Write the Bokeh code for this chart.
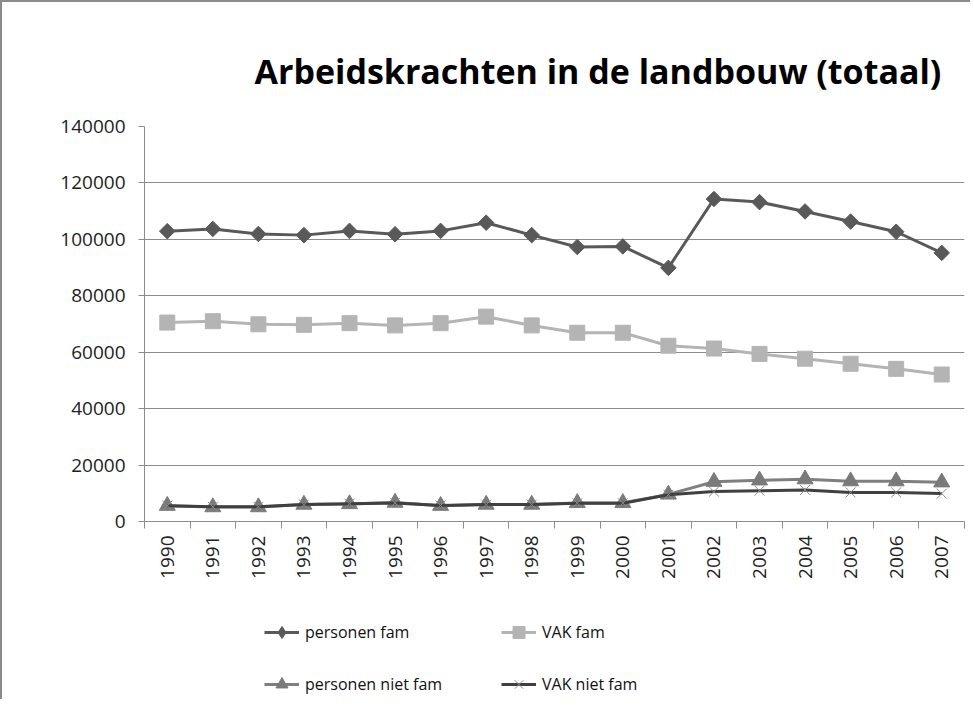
import math
from bokeh.plotting import figure
from bokeh.models import FixedTicker, Legend, LegendItem, Range1d
from bokeh.layouts import column
from bokeh.embed import file_html
from bokeh.resources import INLINE

years = list(range(1990, 2008))
year_labels = [str(y) for y in years]
personen_fam = [102900, 103700, 101900, 101500, 103000, 101800, 103000, 105900, 101500,
                97300, 97500, 89900, 114300, 113200, 109900, 106300, 102700, 95200]
vak_fam = [70500, 71000, 69900, 69700, 70300, 69500, 70300, 72600, 69500,
           66900, 66900, 62300, 61300, 59400, 57700, 55900, 54100, 52100]
personen_niet_fam = [5600, 5100, 5100, 6000, 6200, 6700, 5600, 6000, 6000,
                     6600, 6600, 9600, 14100, 14600, 15000, 14300, 14300, 13900]
vak_niet_fam = [5600, 5200, 5200, 6000, 6300, 6600, 5700, 6000, 6000,
                6500, 6500, 9500, 10600, 10900, 11200, 10300, 10300, 9900]
y_ticks = [0, 20000, 40000, 60000, 80000, 100000, 120000, 140000]
y_tick_labels = [str(v) for v in y_ticks]
series_names = ["personen fam", "VAK fam", "personen niet fam", "VAK niet fam"]
title_text = "Arbeidskrachten in de landbouw (totaal)"

FONT = "Open Sans"
BORDER = "2px solid #8a8a8a"

series_style = [
    dict(data=personen_fam, line="#595959", marker="square", legend_marker="diamond",
         angle=math.pi / 4, size=11, fill="#595959", mline="#595959"),
    dict(data=vak_fam, line="#b4b4b4", marker="square", legend_marker="square",
         angle=0.0, size=15, fill="#b4b4b4", mline="#b4b4b4"),
    dict(data=personen_niet_fam, line="#7f7f7f", marker="triangle", legend_marker="triangle",
         angle=0.0, size=16, fill="#7a7a7a", mline="#7a7a7a"),
    dict(data=vak_niet_fam, line="#404040", marker="x", legend_marker="x",
         angle=0.0, size=14, fill=None, mline="#8c8c8c"),
]


def draw_series(fig, st, marker):
    lr = fig.line(years, st["data"], line_color=st["line"], line_width=3)
    mr = fig.scatter(years, st["data"], marker=marker, angle=st["angle"],
                     size=st["size"], fill_color=st["fill"], line_color=st["mline"],
                     line_width=1)
    return lr, mr


# ---------------- main chart ----------------
p = figure(width=970, height=589, output_backend="svg", toolbar_location=None,
           x_range=Range1d(years[0] - 0.5, years[-1] + 0.5),
           y_range=Range1d(y_ticks[0], y_ticks[-1]),
           min_border_left=142, min_border_right=8, min_border_top=124,
           min_border_bottom=70,
           styles={"border-left": BORDER, "border-top": BORDER})

p.title.text = title_text
p.title.text_font = FONT
p.title.text_font_size = "34px"
p.title.text_font_style = "bold"
p.title.text_color = "#000000"
p.title.align = "left"
p.title.offset = 110
p.title.standoff = 66

p.outline_line_color = None
p.xgrid.grid_line_color = None
p.ygrid.grid_line_color = "#8c8c8c"
p.ygrid.grid_line_width = 1

p.yaxis.ticker = FixedTicker(ticks=y_ticks)
p.yaxis.major_label_overrides = {v: l for v, l in zip(y_ticks, y_tick_labels)}
p.yaxis.axis_line_color = "#8c8c8c"
p.yaxis.major_tick_line_color = "#8c8c8c"
p.yaxis.major_tick_out = 6
p.yaxis.major_tick_in = 0
p.yaxis.minor_tick_line_color = None
p.yaxis.major_label_text_font = FONT
p.yaxis.major_label_text_font_size = "19px"
p.yaxis.major_label_text_color = "#222222"
p.yaxis.major_label_standoff = 13

p.xaxis.ticker = FixedTicker(ticks=years,
                             minor_ticks=[y - 0.5 for y in years] + [years[-1] + 0.5])
p.xaxis.major_label_overrides = {y: l for y, l in zip(years, year_labels)}
p.xaxis.major_label_orientation = math.pi / 2
p.xaxis.axis_line_color = "#8c8c8c"
p.xaxis.major_tick_line_color = None
p.xaxis.minor_tick_line_color = "#8c8c8c"
p.xaxis.minor_tick_out = 7
p.xaxis.minor_tick_in = 0
p.xaxis.major_label_text_font = FONT
p.xaxis.major_label_text_font_size = "19px"
p.xaxis.major_label_text_color = "#222222"
p.xaxis.major_label_standoff = 7

for st in series_style:
    draw_series(p, st, st["marker"])

# ---------------- legend strip ----------------
lf = figure(width=970, height=110, output_backend="svg", toolbar_location=None,
            x_range=Range1d(years[0] - 0.5, years[-1] + 0.5),
            y_range=Range1d(-2, -1),
            min_border_left=0, min_border_right=0, min_border_top=0,
            min_border_bottom=0, styles={"border-left": BORDER})
lf.axis.visible = False
lf.grid.visible = False
lf.outline_line_color = None

items = []
for name, st in zip(series_names, series_style):
    lst = dict(st, angle=0.0)
    lr, mr = draw_series(lf, lst, st["legend_marker"])
    items.append(LegendItem(label=name, renderers=[lr, mr]))

legend = Legend(items=items, orientation="horizontal", ncols=2,
                location=(120, 0), border_line_color=None,
                background_fill_alpha=0, glyph_width=35, glyph_height=30,
                label_standoff=6, spacing=22, label_width=174,
                label_text_font=FONT, label_text_font_size="16px",
                label_text_color="#111111", margin=0, padding=0)
lf.add_layout(legend, "center")

layout = column(p, lf)
open("out.html", "w").write(file_html(layout, INLINE))
